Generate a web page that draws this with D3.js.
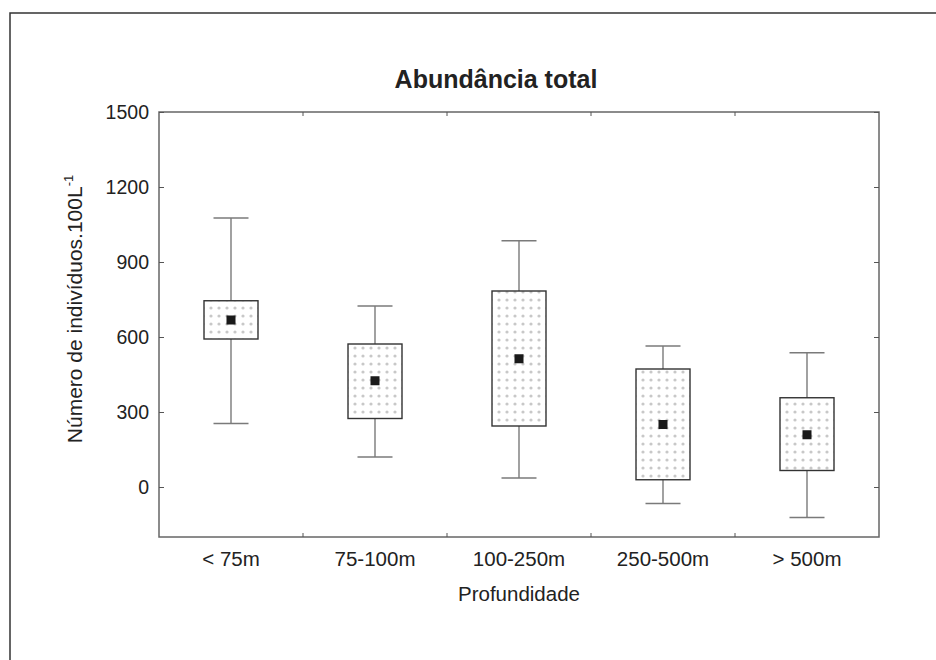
<!DOCTYPE html>
<html>
<head>
<meta charset="utf-8">
<script src="https://cdn.jsdelivr.net/npm/d3@7"></script>
<style>
  body { margin: 0; background: #fff; }
  text { font-family: "Liberation Sans", Arial, sans-serif; fill: #222; }
</style>
</head>
<body>
<div id="chart"></div>
<script>
const categories = ["< 75m", "75-100m", "100-250m", "250-500m", "> 500m"];
const means = [668, 425, 513, 250, 209];
const boxLow = [592, 274, 244, 29, 66];
const boxHigh = [745, 572, 784, 472, 357];
const whiskerLow = [254, 120, 36, -66, -122];
const whiskerHigh = [1076, 724, 985, 564, 537];
const yTicks = [0, 300, 600, 900, 1200, 1500];

const W = 936, H = 660;
const margin = { top: 112, right: 57, bottom: 123, left: 159 },
      width = W - margin.left - margin.right,
      height = H - margin.top - margin.bottom;

const svgRoot = d3.select("#chart").append("svg")
  .attr("width", W)
  .attr("height", H);

// outer frame (runs off the right and bottom edges)
svgRoot.append("path")
  .attr("d", `M10,${H + 5} L10,13 L${W + 5},13`)
  .attr("fill", "none")
  .attr("stroke", "#333")
  .attr("stroke-width", 1.5);

const defs = svgRoot.append("defs");
const pat = defs.append("pattern")
  .attr("id", "dots")
  .attr("patternUnits", "userSpaceOnUse")
  .attr("width", 8)
  .attr("height", 8);
pat.append("circle")
  .attr("cx", 4)
  .attr("cy", 4)
  .attr("r", 1.6)
  .attr("fill", "#c8c8c8");

const svg = svgRoot.append("g")
  .attr("transform", `translate(${margin.left},${margin.top})`);

const x = d3.scaleBand()
  .domain(categories)
  .range([0, width]);

const y = d3.scaleLinear()
  .domain([-200, 1500])
  .range([height, 0]);

const data = categories.map((c, i) => ({
  cat: c, mean: means[i], lo: boxLow[i], hi: boxHigh[i],
  wlo: whiskerLow[i], whi: whiskerHigh[i]
}));

const boxW = 54, capW = 35, meanS = 9;

const g = svg.selectAll(".box")
  .data(data)
  .enter()
  .append("g")
  .attr("transform", d => `translate(${x(d.cat) + x.bandwidth() / 2},0)`);

// whisker lines
g.append("line")
  .attr("x1", 0).attr("x2", 0)
  .attr("y1", d => y(d.whi))
  .attr("y2", d => y(d.wlo))
  .attr("stroke", "#7a7a7a")
  .attr("stroke-width", 1.4);

g.selectAll(".cap")
  .data(d => [d.whi, d.wlo])
  .enter()
  .append("line")
  .attr("x1", -capW / 2).attr("x2", capW / 2)
  .attr("y1", v => y(v)).attr("y2", v => y(v))
  .attr("stroke", "#7a7a7a")
  .attr("stroke-width", 1.4);

g.append("rect")
  .attr("x", -boxW / 2)
  .attr("y", d => y(d.hi))
  .attr("width", boxW)
  .attr("height", d => y(d.lo) - y(d.hi))
  .attr("fill", "#fff")
  .attr("stroke", "none");

g.append("rect")
  .attr("x", -boxW / 2)
  .attr("y", d => y(d.hi))
  .attr("width", boxW)
  .attr("height", d => y(d.lo) - y(d.hi))
  .attr("fill", "url(#dots)")
  .attr("stroke", "#333")
  .attr("stroke-width", 1.4);

g.append("rect")
  .attr("x", -meanS / 2)
  .attr("y", d => y(d.mean) - meanS / 2)
  .attr("width", meanS)
  .attr("height", meanS)
  .attr("fill", "#1a1a1a");

// frame
svg.append("rect")
  .attr("width", width)
  .attr("height", height)
  .attr("fill", "none")
  .attr("stroke", "#666")
  .attr("stroke-width", 1.5);

const yAxis = svg.append("g")
  .call(d3.axisLeft(y).tickValues(yTicks).tickSize(-5).tickPadding(10).tickFormat(d3.format("d")));
yAxis.select(".domain").remove();
yAxis.selectAll("line").attr("stroke", "#555");
yAxis.selectAll("text").style("font-size", "19.5px").attr("fill", "#222");

const yAxisR = svg.append("g")
  .attr("transform", `translate(${width},0)`)
  .call(d3.axisRight(y).tickValues(yTicks).tickSize(-5).tickFormat(""));
yAxisR.select(".domain").remove();
yAxisR.selectAll("line").attr("stroke", "#555");

const bounds = categories.slice(1).map(c => x(c));
[0, height].forEach(yy => {
  svg.selectAll(null)
    .data(bounds)
    .enter()
    .append("line")
    .attr("x1", d => d).attr("x2", d => d)
    .attr("y1", yy).attr("y2", yy === 0 ? 4 : height - 4)
    .attr("stroke", "#555");
});

const xAxis = svg.append("g")
  .attr("transform", `translate(0,${height})`)
  .call(d3.axisBottom(x).tickSize(0).tickPadding(14));
xAxis.select(".domain").remove();
xAxis.selectAll("text").style("font-size", "20.5px").attr("fill", "#222");

svg.append("text")
  .attr("x", width / 2)
  .attr("y", height + 64)
  .attr("text-anchor", "middle")
  .style("font-size", "20.5px")
  .text("Profundidade");

const yl = svgRoot.append("text")
  .attr("transform", `translate(82,309) rotate(-90)`)
  .attr("text-anchor", "middle")
  .style("font-size", "21px");
yl.append("tspan").text("Número de indivíduos.100L");
yl.append("tspan")
  .attr("dy", -9)
  .style("font-size", "13px")
  .text("-1");

svgRoot.append("text")
  .attr("x", 496)
  .attr("y", 88)
  .attr("text-anchor", "middle")
  .style("font-size", "25px")
  .style("font-weight", "bold")
  .text("Abundância total");
</script>
</body>
</html>
